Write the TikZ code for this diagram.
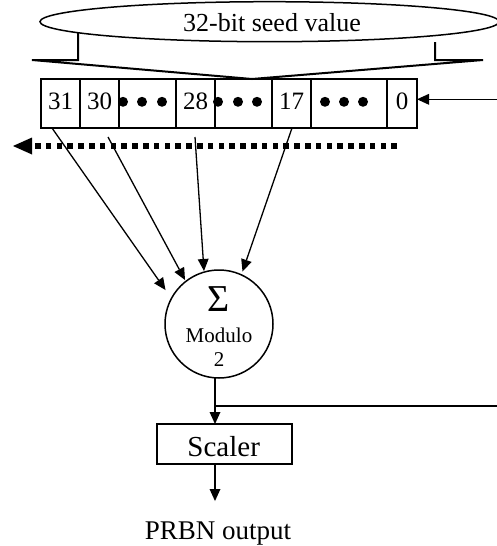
\documentclass[tikz,border=0pt]{standalone}
\usepackage{fontspec}
\setmainfont{Liberation Serif}
\usetikzlibrary{arrows.meta,shapes.geometric}
\tikzset{
  cell/.style={draw, line width=1.8pt, minimum height=49pt, inner sep=0pt, outer sep=0pt, anchor=west},
  num/.style={anchor=base, inner sep=0pt, font=\fontsize{25}{30}\selectfont},
  bit/.style={circle, fill, inner sep=0pt, minimum size=10pt},
  tip/.style={-{Triangle[length=12pt,width=11pt,line width=0pt]}},
  tap/.style={line width=1.3pt, tip},
  flow/.style={line width=1.5pt},
  lbl/.style={anchor=base, inner sep=0pt},
}
\begin{document}
\begin{tikzpicture}[x=1pt,y=-1pt]
\useasboundingbox (0,0) rectangle (497,546);

% seed value bubble and its callout
\node[ellipse, draw, line width=1.5pt, minimum width=459pt, minimum height=40pt,
      inner sep=0pt, outer sep=0pt] (seed) at (269.5,21.7) {};
\node[lbl, font=\fontsize{26}{30}\selectfont] (seedtxt) at (272,31.7) {32-bit seed value};
\draw[line width=2pt, line join=miter] (78,32) -- (78,60) -- (32,60) -- (252,79)
      -- (483,60) -- (435,60) -- (435,42);

% 32-bit shift register
\node[cell, minimum width=39pt] (c31) at (41,103.5) {};
\node[cell, minimum width=39pt] (c30) at (80,103.5) {};
\node[cell, minimum width=57pt] (d1)  at (119,103.5) {};
\node[cell, minimum width=39pt] (c28) at (176,103.5) {};
\node[cell, minimum width=57pt] (d2)  at (215,103.5) {};
\node[cell, minimum width=39pt] (c17) at (272,103.5) {};
\node[cell, minimum width=76pt] (d3)  at (311,103.5) {};
\node[cell, minimum width=30pt] (c0)  at (387,103.5) {};

\coordinate (bl) at (0,109.3);
\node[num] (n31) at (c31 |- bl) {31};
\node[num] (n30) at (c30 |- bl) {30};
\node[num] (n28) at (c28 |- bl) {28};
\node[num] (n17) at (c17 |- bl) {17};
\node[num] (n0)  at (c0 |- bl)  {0};

\foreach \x [count=\i] in {123,142,162,218,238,257,325,344,363}
  \node[bit] (b\i) at (\x,101.8) {};

% shift direction
\coordinate (shiftR) at (397,146);
\coordinate (shiftL) at (13,146);
\draw[line width=5.5pt, dash pattern=on 5.6pt off 5.2pt,
      -{Triangle[length=19pt,width=17pt,line width=0pt]}] (shiftR) -- (shiftL);

% modulo-2 adder
\node[circle, draw, line width=1.5pt, minimum size=108pt, inner sep=0pt, outer sep=0pt]
      (sum) at (219,324) {};
\node[lbl, font=\fontsize{38}{40}\selectfont] (sigma) at (219,311.5) {Σ};
\node[lbl, font=\fontsize{21}{24}\selectfont] (mod) at (219,342) {Modulo};
\node[lbl, font=\fontsize{21}{24}\selectfont] (two) at (219,366.5) {2};

% taps
\coordinate (t31) at (52,128);
\coordinate (t30) at (108,137);
\coordinate (t28) at (195,137);
\coordinate (t17) at (292,128);
\coordinate (a31) at (165.5,290);
\coordinate (a30) at (185,280);
\coordinate (a28) at (204,271);
\coordinate (a17) at (242.5,271.5);
\draw[tap] (t31) -- (a31);
\draw[tap] (t30) -- (a30);
\draw[tap] (t28) -- (a28);
\draw[tap] (t17) -- (a17);

% scaler
\node[draw, line width=1.5pt, minimum width=135pt, minimum height=40pt,
      inner sep=0pt, outer sep=0pt] (scaler) at (224.5,444) {};
\node[lbl, font=\fontsize{29}{32}\selectfont] (sctxt) at (223.7,456.5) {Scaler};

% output path and feedback
\coordinate (j) at (215,406);
\coordinate (fbOut) at (497,406);
\coordinate (fbIn) at (497,99.3);
\coordinate (outTip) at (215,501);
\draw[flow] (j |- sum.south) -- (j);
\draw[flow, tip] (j) -- (j |- scaler.north);
\draw[flow] (j) -- (fbOut);
\draw[flow, tip] (fbIn) -- (fbIn -| c0.east);
\draw[flow, tip] (j |- scaler.south) -- (outTip);
\node[lbl, font=\fontsize{27}{30}\selectfont] (out) at (218,539) {PRBN output};
\end{tikzpicture}
\end{document}
